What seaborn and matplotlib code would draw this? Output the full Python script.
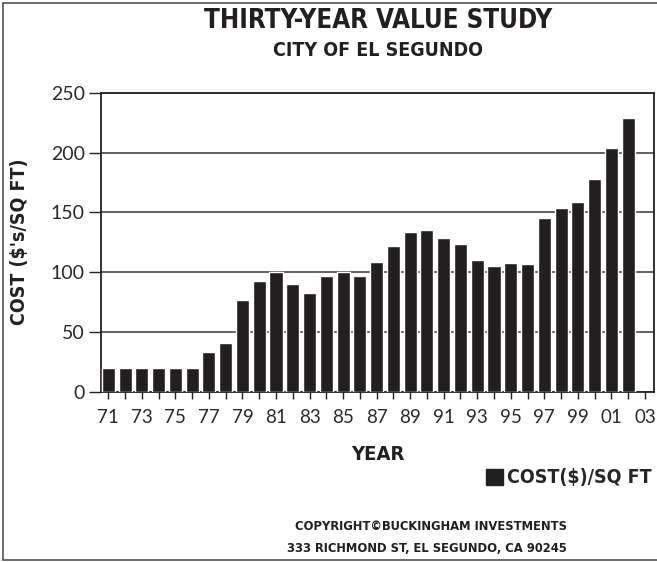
import matplotlib
matplotlib.use("Agg")
import matplotlib.pyplot as plt
from matplotlib.lines import Line2D
from matplotlib.patches import Patch
from matplotlib import font_manager as fm
import seaborn as sns
import pandas as pd

years = list(range(1971, 2003))
cost = [20, 20, 20, 20, 20, 20, 33, 41, 77, 93, 100, 90, 83, 97, 100, 97,
        109, 122, 134, 135, 129, 124, 110, 105, 108, 107, 145, 154, 159, 178, 204, 229]
tick_years = list(range(1971, 2004))
tick_labels = [f"{y % 100:02d}" if (y - 1971) % 2 == 0 else "" for y in tick_years]
y_ticks = [0, 50, 100, 150, 200, 250]

df = pd.DataFrame({"year": years, "cost": cost})

sns.set_theme(style="white")
bold_font = ["DejaVu Sans"]
reg_font = ["Lato", "DejaVu Sans"]
plt.rcParams["font.family"] = reg_font

W, H = 657, 562
fig = plt.figure(figsize=(W / 100, H / 100), dpi=100)
ax = fig.add_axes([100.7 / W, 1 - 392 / H, (654 - 100.7) / W, (392 - 92.7) / H])

sns.barplot(data=df, x="year", y="cost", native_scale=True, width=0.78,
            color="#231F20", saturation=1, ax=ax, zorder=3)

ax.set_xlim(1970.547, 2003.54)
ax.set_ylim(0, 250)
ax.set_yticks(y_ticks)
ax.set_xticks(tick_years)
ax.set_xticklabels(tick_labels)
ax.yaxis.grid(True, color="#555555", linewidth=1.3, zorder=0)
ax.xaxis.grid(False)
ax.set_axisbelow(True)
for s in ax.spines.values():
    s.set_visible(True)
    s.set_color("#222222")
    s.set_linewidth(1.3)

ax.tick_params(axis="y", which="major", direction="out", length=8.5, width=1,
               color="#222222", labelsize=14, labelcolor="#2a2a2a", pad=3, left=True)
ax.tick_params(axis="x", which="major", direction="out", length=5, width=1,
               color="#222222", labelsize=13.5, labelcolor="#2a2a2a", pad=7, bottom=True)
for lbl in ax.get_xticklabels() + ax.get_yticklabels():
    lbl.set_family(reg_font)

ax.set_xlabel("")
ax.set_ylabel("")

bkw = dict(fontweight="bold", family=bold_font, fontstretch="condensed", color="#231F20")

fig.text(20 / W, 1 - 242 / H, "COST ($'s/SQ FT)", rotation=90, ha="center", va="center",
         fontsize=14, **bkw)
fig.text(377.5 / W, 1 - 454 / H, "YEAR", ha="center", va="center", fontsize=14.5, **bkw)

fig.text(378 / W, 1 - 21 / H, "THIRTY-YEAR VALUE STUDY", ha="center", va="center",
         fontsize=18.5, **bkw)
fig.text(378 / W, 1 - 50 / H, "CITY OF EL SEGUNDO", ha="center", va="center",
         fontsize=14, **bkw)

handle = Patch(facecolor="#231F20", edgecolor="#231F20")
fig.legend(handles=[handle], labels=["COST($)/SQ FT"], loc="center left",
           bbox_to_anchor=(478 / W, 1 - 478 / H), frameon=False,
           handlelength=0.9, handleheight=0.9, handletextpad=0.2, borderaxespad=0,
           prop=fm.FontProperties(family=bold_font, weight="bold", stretch="condensed", size=14))

fig.text(431 / W, 1 - 527 / H, "COPYRIGHT©BUCKINGHAM INVESTMENTS", ha="center", va="center",
         fontsize=9.3, **bkw)
fig.text(427 / W, 1 - 548 / H, "333 RICHMOND ST, EL SEGUNDO, CA 90245", ha="center", va="center",
         fontsize=9.3, **bkw)

# figure border (left, top, bottom)
bc = "#555555"
fig.add_artist(Line2D([2.5 / W, 2.5 / W], [1 - 2.5 / H, 1 - 560 / H], transform=fig.transFigure,
                      color=bc, linewidth=1.2))
fig.add_artist(Line2D([2.5 / W, 1], [1 - 2.5 / H, 1 - 2.5 / H], transform=fig.transFigure,
                      color=bc, linewidth=1.2))
fig.add_artist(Line2D([2.5 / W, 1], [1 - 560 / H, 1 - 560 / H], transform=fig.transFigure,
                      color=bc, linewidth=1.2))

fig.savefig("out.png", dpi=100)
